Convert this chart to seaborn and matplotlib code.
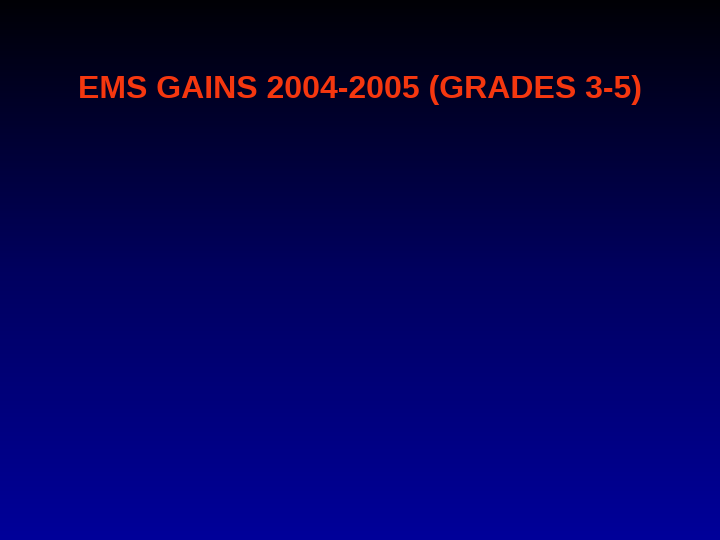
import numpy as np
import seaborn as sns
import matplotlib.pyplot as plt

# slide title, the only content on the slide
title = "EMS GAINS 2004-2005 (GRADES 3-5)"
title_color = "#F5370F"

# background: vertical gradient from black (top) to blue (bottom)
bg_colors = ["#000005", "#00005E", "#000099"]

sns.set_theme(style="white")
plt.rcParams['font.family'] = ['Liberation Sans', 'DejaVu Sans']

fig = plt.figure(figsize=(7.2, 5.4), dpi=100)
ax = fig.add_axes([0, 0, 1, 1])

grad = np.linspace(0, 1, 540).reshape(-1, 1)
cmap = sns.blend_palette(bg_colors, as_cmap=True)
sns.heatmap(grad, ax=ax, cmap=cmap, cbar=False, xticklabels=False,
            yticklabels=False, vmin=0, vmax=1)
ax.set_axis_off()

fig.text(0.5, 1 - 90 / 540, title, color=title_color, fontsize=23,
         fontweight="bold", ha="center", va="center")

fig.savefig("out.png", dpi=100)
